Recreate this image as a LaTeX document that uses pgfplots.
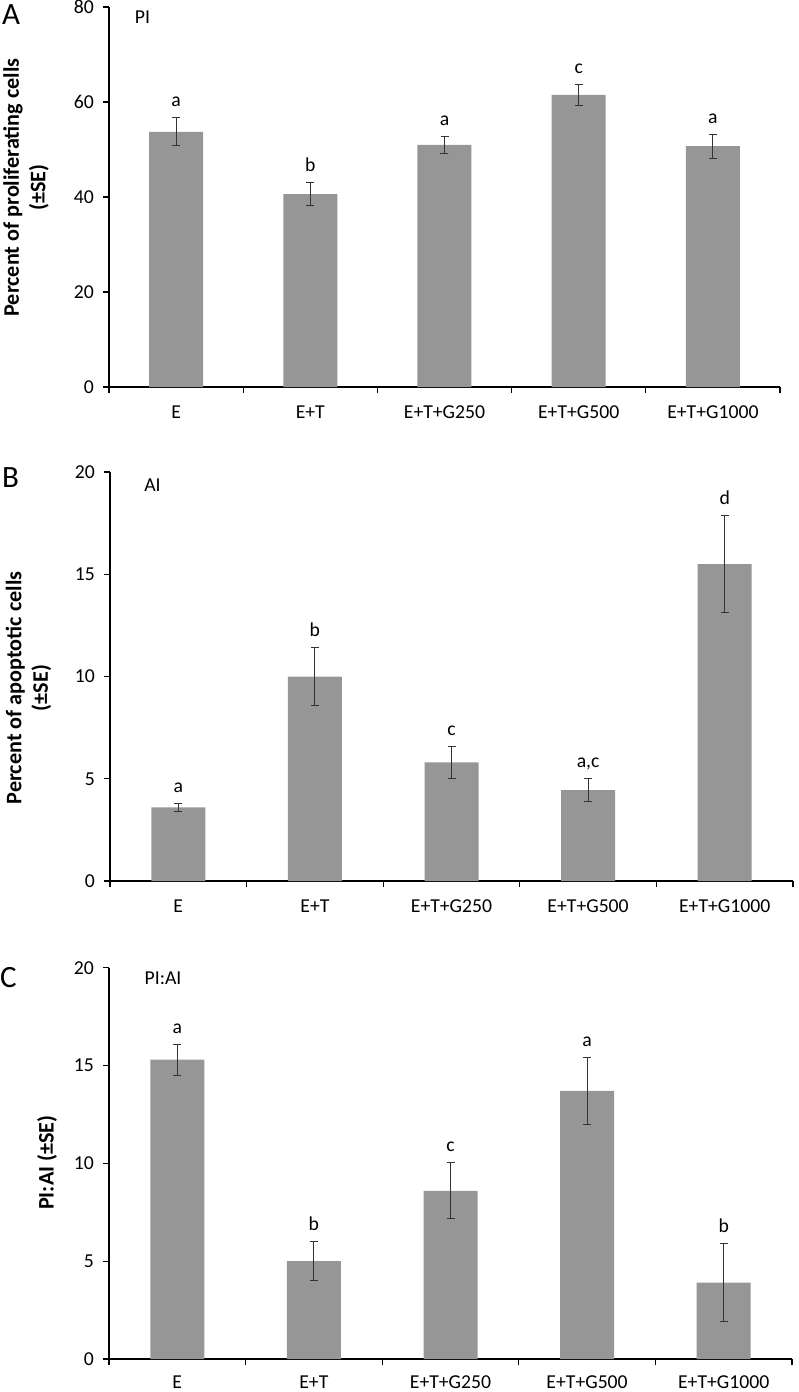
\documentclass[border=0pt]{standalone}
\usepackage{pgfplots}
\pgfplotsset{compat=1.18}
\usepackage{fontspec}
\setmainfont{Carlito}
\definecolor{barc}{RGB}{150,150,150}
\tikzset{ylab/.style={font=\bfseries\fontsize{11.1}{13.3}\selectfont, align=center}}
\pgfplotsset{
  mybar/.style={
    scale only axis, xmin=0, xmax=5, ymin=0,
    axis lines=left, axis line style={-, line width=0.6pt},
    xtick={0,...,5}, x tick label as interval,
    xticklabels={E, E+T, E+T+G250, E+T+G500, E+T+G1000},
    tick align=outside, major tick length=3pt,
    tick style={line width=0.6pt, black},
    /pgf/number format/assume math mode=true,
    tick label style={font=\fontsize{9.85}{11}\selectfont},
    xticklabel style={yshift=-3pt},
    yticklabel style={xshift=-1pt},
    clip=false,
  },
  barplot/.style={ybar, bar width=27pt, fill=barc, draw=none,
    error bars/.cd, y dir=both, y explicit,
    error bar style={line width=0.5pt, black!80},
    error mark options={rotate=90, mark size=2pt, line width=0.5pt, black!80}},
  letters/.style={only marks, mark=none, nodes near coords, point meta=explicit symbolic,
    every node near coord/.append style={anchor=base, yshift=5.5pt, font=\fontsize{9.85}{11}\selectfont, black}},
}
\begin{document}
\begin{tikzpicture}
\useasboundingbox (0,0) rectangle (399pt,-696pt);
% ---------- Panel A ----------
\begin{axis}[mybar, at={(54.5pt,-193.5pt)}, anchor=south west,
  width=335.5pt, height=190pt, ymax=80, ytick={0,20,40,60,80},
  every axis y label/.style={at={(axis description cs:-0.1237,0.525)}, rotate=90, anchor=center, ylab},
  ylabel={Percent of proliferating cells\\(±SE)}]
\addplot[barplot] coordinates {
  (0.5,53.7) +- (0,2.95)
  (1.5,40.6) +- (0,2.4)
  (2.5,51.0) +- (0,1.8)
  (3.5,61.5) +- (0,2.2)
  (4.5,50.7) +- (0,2.5)};
\addplot[letters] coordinates {
  (0.5,56.65) [a]
  (1.5,43.0) [b]
  (2.5,52.8) [a]
  (3.5,63.7) [c]
  (4.5,53.2) [a]};
\end{axis}
% ---------- Panel B ----------
\begin{axis}[mybar, at={(55pt,-440.5pt)}, anchor=south west,
  width=341.5pt, height=204.5pt, ymax=20, ytick={0,5,10,15,20},
  every axis y label/.style={at={(axis description cs:-0.1193,0.472)}, rotate=90, anchor=center, ylab},
  ylabel={Percent of apoptotic cells\\(±SE)}]
\addplot[barplot] coordinates {
  (0.5,3.6) +- (0,0.2)
  (1.5,10.0) +- (0,1.4)
  (2.5,5.8) +- (0,0.8)
  (3.5,4.45) +- (0,0.57)
  (4.5,15.5) +- (0,2.37)};
\addplot[letters] coordinates {
  (0.5,3.8) [a]
  (1.5,11.4) [b]
  (2.5,6.6) [c]
  (3.5,5.02) [a,c]
  (4.5,17.87) [d]};
\end{axis}
% ---------- Panel C ----------
\begin{axis}[mybar, at={(54.5pt,-679.5pt)}, anchor=south west,
  width=341.5pt, height=195.65pt, ymax=20, ytick={0,5,10,15,20},
  xticklabel style={yshift=1.2pt},
  every axis y label/.style={at={(axis description cs:-0.0908,0.502)}, rotate=90, anchor=center, ylab},
  ylabel={PI:AI (±SE)}]
\addplot[barplot] coordinates {
  (0.5,15.3) +- (0,0.8)
  (1.5,5.0) +- (0,1.0)
  (2.5,8.6) +- (0,1.42)
  (3.5,13.7) +- (0,1.7)
  (4.5,3.9) +- (0,2.0)};
\addplot[letters] coordinates {
  (0.5,16.1) [a]
  (1.5,6.0) [b]
  (2.5,10.02) [c]
  (3.5,15.4) [a]
  (4.5,5.9) [b]};
\end{axis}
% panel letters and titles
\node[inner sep=0, font=\fontsize{15.5}{18}\selectfont] at (5.5pt,-7.25pt) {A};
\node[inner sep=0, font=\fontsize{15.5}{18}\selectfont] at (5.25pt,-239pt) {B};
\node[inner sep=0, font=\fontsize{15.5}{18}\selectfont] at (4.25pt,-488.75pt) {C};
\node[inner sep=0, font=\fontsize{9.85}{11}\selectfont] at (71.25pt,-8.5pt) {PI};
\node[inner sep=0, font=\fontsize{9.85}{11}\selectfont] at (76.25pt,-242.5pt) {AI};
\node[inner sep=0, font=\fontsize{9.85}{11}\selectfont] at (81.5pt,-489.25pt) {PI:AI};
\end{tikzpicture}
\end{document}
